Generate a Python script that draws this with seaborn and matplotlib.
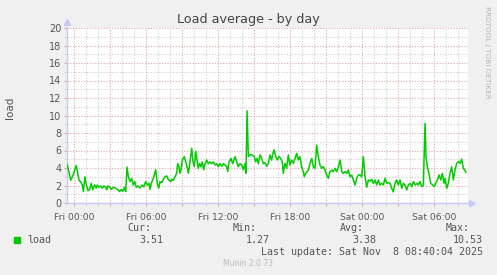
import matplotlib
matplotlib.use("Agg")
import matplotlib.pyplot as plt
import seaborn as sns
import pandas as pd
from matplotlib.ticker import MultipleLocator, FixedLocator

# ---- data (hours relative to Fri 00:00, load average) ----
hours = [-0.58, -0.42, -0.28, -0.06, 0.19, 0.42, 0.56, 0.69, 0.78, 0.92, 1.0, 1.17, 1.31, 1.44,
         1.56, 1.72, 1.86, 1.94, 2.08, 2.22, 2.36, 2.5, 2.64, 2.72, 2.83, 3.0, 3.11, 3.28, 3.47,
         3.67, 3.81, 3.94, 4.08, 4.22, 4.31, 4.42, 4.53, 4.67, 4.81, 4.94, 5.06, 5.19, 5.33, 5.5,
         5.67, 5.83, 5.97, 6.11, 6.25, 6.33, 6.44, 6.61, 6.81, 6.94, 7.06, 7.17, 7.31, 7.5, 7.58,
         7.72, 7.86, 8.06, 8.14, 8.28, 8.42, 8.56, 8.64, 8.75, 8.83, 8.92, 9.03, 9.19, 9.31, 9.42,
         9.53, 9.67, 9.81, 9.92, 10.03, 10.14, 10.25, 10.36, 10.47, 10.58, 10.69, 10.81, 10.92,
         11.06, 11.19, 11.33, 11.47, 11.61, 11.75, 11.89, 12.03, 12.17, 12.31, 12.44, 12.58,
         12.72, 12.81, 12.92, 13.08, 13.22, 13.42, 13.56, 13.69, 13.83, 13.97, 14.11, 14.25,
         14.33, 14.42, 14.53, 14.67, 14.86, 15.03, 15.14, 15.25, 15.36, 15.5, 15.64, 15.78,
         15.92, 16.06, 16.19, 16.33, 16.47, 16.61, 16.69, 16.81, 16.94, 17.08, 17.22, 17.36,
         17.44, 17.58, 17.72, 17.86, 18.0, 18.14, 18.28, 18.42, 18.56, 18.69, 18.83, 18.97,
         19.11, 19.19, 19.31, 19.42, 19.53, 19.67, 19.81, 19.94, 20.08, 20.22, 20.36, 20.5,
         20.64, 20.78, 20.92, 21.06, 21.19, 21.33, 21.47, 21.61, 21.75, 21.89, 22.03, 22.17,
         22.31, 22.44, 22.58, 22.72, 22.86, 23.0, 23.14, 23.28, 23.42, 23.56, 23.69, 23.83,
         23.97, 24.11, 24.25, 24.39, 24.53, 24.67, 24.81, 24.94, 25.08, 25.22, 25.36, 25.5,
         25.64, 25.78, 25.92, 26.06, 26.19, 26.33, 26.47, 26.61, 26.75, 26.89, 27.03, 27.17,
         27.31, 27.44, 27.58, 27.72, 27.86, 28.0, 28.14, 28.28, 28.42, 28.56, 28.69, 28.83,
         28.97, 29.11, 29.25, 29.33, 29.44, 29.58, 29.72, 29.89, 30.03, 30.14, 30.28, 30.42,
         30.56, 30.69, 30.83, 30.92, 31.06, 31.19, 31.33, 31.47, 31.61, 31.75, 31.89, 32.03,
         32.17, 32.31, 32.44, 32.58, 32.64]
load = [4.4, 3.6, 2.6, 3.2, 4.3, 2.6, 2.4, 2.1, 1.3, 3.0, 2.25, 1.4, 1.55, 2.25,
        1.5, 2.06, 1.7, 2.06, 1.8, 1.95, 1.7, 1.95, 1.8, 1.5, 1.95, 1.8, 1.55, 1.8, 1.7,
        1.5, 1.3, 1.55, 1.35, 1.8, 1.3, 4.1, 3.0, 2.45, 2.8, 2.06, 2.45, 1.8, 1.95, 1.7,
        2.06, 1.85, 2.45, 2.06, 2.25, 1.55, 2.25, 2.8, 3.8, 2.25, 1.7, 2.45, 2.35, 2.8, 3.0,
        3.1, 2.7, 2.45, 2.7, 2.6, 3.0, 3.4, 4.5, 4.15, 3.4, 3.8, 4.9, 5.3, 4.7, 4.15,
        3.4, 4.7, 6.25, 4.7, 4.15, 5.9, 4.9, 3.95, 4.5, 4.15, 4.7, 3.8, 4.5,
        4.9, 4.5, 4.7, 4.5, 4.7, 4.35, 4.5, 4.15, 4.5, 4.2, 4.5, 4.35,
        4.15, 3.6, 4.7, 5.1, 4.5, 5.3, 4.7, 4.15, 4.5, 4.35, 3.8, 4.5,
        3.4, 10.53, 5.3, 5.5, 5.5, 5.3, 4.7, 5.1, 4.5, 5.5, 5.1, 4.5,
        4.6, 4.2, 4.5, 5.49, 4.91, 5.86, 6.06, 5.3, 4.91, 5.3, 5.1, 4.72,
        3.39, 4.53, 3.96, 5.49, 4.34, 4.91, 4.53, 5.1, 5.68, 4.91, 5.3, 4.15,
        3.58, 3.0, 3.39, 3.58, 3.77, 4.53, 5.1, 4.15, 3.96, 6.63, 5.3, 4.34,
        3.96, 4.15, 3.77, 3.2, 2.82, 3.58, 3.77, 3.58, 3.96, 3.58, 4.15, 4.91,
        3.58, 3.39, 3.58, 3.39, 3.77, 3.0, 3.2, 2.63, 2.06, 2.82, 3.2, 3.2,
        3.0, 5.3, 3.0, 1.8, 2.63, 2.5, 2.7, 2.25, 2.63, 2.06, 2.63, 2.06,
        2.25, 2.06, 2.82, 2.25, 2.33, 2.25, 1.68, 1.27, 2.25, 2.63, 2.06, 2.63,
        1.68, 2.25, 2.06, 1.49, 2.06, 2.25, 1.87, 2.44, 2.06, 2.25, 2.06, 2.44,
        1.87, 2.06, 9.1, 5.3, 4.15, 3.39, 2.25, 2.06, 1.87, 2.25, 2.63, 3.2,
        2.63, 3.39, 2.25, 2.82, 1.68, 2.25, 3.39, 4.15, 2.63, 3.77, 4.53, 4.72,
        4.53, 5.0, 3.96, 3.77, 3.51]

tick_hours = [0, 6, 12, 18, 24, 30]
tick_labels = ["Fri 00:00", "Fri 06:00", "Fri 12:00", "Fri 18:00", "Sat 00:00", "Sat 06:00"]
y_ticks = list(range(0, 21, 2))

series_name = "load"
stat_heads = ["Cur:", "Min:", "Avg:", "Max:"]
stat_values = ["3.51", "1.27", "3.38", "10.53"]
last_update = "Last update: Sat Nov  8 08:40:04 2025"
title = "Load average - by day"

df = pd.DataFrame({"hours": hours, "load": load})

# ---- figure ----
W, H = 497, 275
fig = plt.figure(figsize=(W / 100, H / 100), dpi=100, facecolor="#F0F0F0")
L, R, T, B = 67, 468, 28, 203
ax = fig.add_axes([L / W, 1 - B / H, (R - L) / W, (B - T) / H])
ax.set_facecolor("white")

RED = "#E4A4A4"
GREY = "#CDCDCD"
AXC = "#C8C8F4"
TXT = "#555555"

ax.set_xlim(-0.58, 32.83)
ax.set_ylim(0, 20)

# grid
ax.xaxis.set_major_locator(MultipleLocator(3))
ax.xaxis.set_minor_locator(MultipleLocator(1))
ax.yaxis.set_major_locator(FixedLocator(y_ticks))
ax.yaxis.set_minor_locator(MultipleLocator(1))
ax.grid(which="minor", color=GREY, linestyle=(0, (1, 1.5)), linewidth=0.8)
ax.grid(which="major", color=RED, linestyle=(0, (1, 1.5)), linewidth=0.8)
ax.set_axisbelow(True)

sns.lineplot(data=df, x="hours", y="load", ax=ax, color="#00CC00", linewidth=1.1,
             legend=False, zorder=3)

# tick labels: only at 6h majors
ax.set_xticks(tick_hours, minor=False)
ax.xaxis.set_major_locator(MultipleLocator(3))
ax.set_xticklabels([])
for h, lab in zip(tick_hours, tick_labels):
    ax.text(h, -0.055, lab, transform=ax.get_xaxis_transform(), ha="center", va="top",
            fontsize=6.6, color=TXT)
ax.set_yticklabels([str(v) for v in y_ticks], fontsize=7, color=TXT)
ax.tick_params(axis="x", which="both", length=2, color=RED, pad=2)
ax.tick_params(axis="x", which="minor", color=GREY)
ax.tick_params(axis="y", which="both", length=2, color=RED, pad=2)
ax.tick_params(axis="y", which="minor", color=GREY)
ax.set_xlabel("")
ax.set_ylabel("")

for s in ["top", "right"]:
    ax.spines[s].set_visible(False)
for s in ["left", "bottom"]:
    ax.spines[s].set_color(AXC)
    ax.spines[s].set_linewidth(1.0)

# axis arrows
ax.plot([0], [1.035], marker="^", color=AXC, markersize=5, transform=ax.transAxes, clip_on=False)
ax.plot([1.01], [0], marker=">", color=AXC, markersize=5, transform=ax.transAxes, clip_on=False)

# texts
fig.text(248 / W, 1 - 20 / H, title, ha="center", va="center", fontsize=9.2, color="#444444")
fig.text(10 / W, 1 - 108 / H, "load", ha="center", va="center", rotation=90, fontsize=7.5, color=TXT)
fig.text(487 / W, 1 - 6 / H, "RRDTOOL / TOBI OETIKER", ha="center", va="top", rotation=270,
         fontsize=5.2, color="#B4B4B4")

mono = "DejaVu Sans Mono"
fs = 7.2
head_x = [139, 245, 352, 458]
val_x = [163, 270, 376, 483]
for hx, h in zip(head_x, stat_heads):
    fig.text(hx / W, 1 - 228 / H, h, ha="center", va="center", family=mono, fontsize=fs, color=TXT)
for vx, v in zip(val_x, stat_values):
    fig.text(vx / W, 1 - 240 / H, v, ha="right", va="center", family=mono, fontsize=fs, color=TXT)
fig.patches.append(plt.Rectangle((14 / W, 1 - 243 / H), 6 / W, 6 / H, transform=fig.transFigure,
                                 color="#00CC00", figure=fig))
fig.text(27 / W, 1 - 240 / H, series_name, ha="left", va="center", family=mono, fontsize=fs, color=TXT)
fig.text(483 / W, 1 - 252 / H, last_update, ha="right", va="center", family=mono, fontsize=fs, color=TXT)
fig.text(248 / W, 1 - 264 / H, "Munin 2.0.73", ha="center", va="center", fontsize=5.5, color="#BBBBBB")

fig.savefig("out.png", dpi=100, facecolor=fig.get_facecolor())
